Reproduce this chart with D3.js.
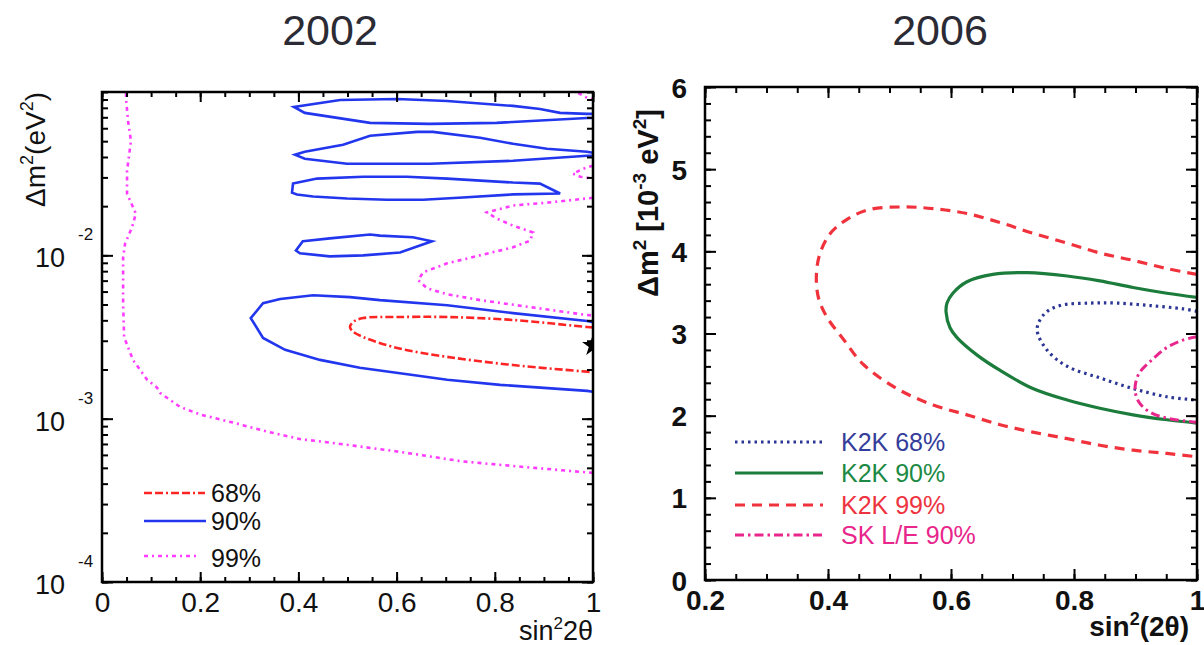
<!DOCTYPE html>
<html><head><meta charset="utf-8">
<script src="https://cdn.jsdelivr.net/npm/d3@7"></script>
<style>
html,body{margin:0;padding:0;background:#fff;}
svg{display:block;font-family:"Liberation Sans",Arial,Helvetica,sans-serif;}
</style></head>
<body>
<svg id="chart" width="1204" height="645"></svg>
<script>
// ---------- DATA: 2002 panel (sin^2 2θ, Δm^2 in eV^2) ----------
const titles2002 = "2002";
const leftXTicks = [0, 0.2, 0.4, 0.6, 0.8, 1];
const leftXLabels = ["0", "0.2", "0.4", "0.6", "0.8", "1"];
const leftYDecades = [1e-4, 1e-3, 1e-2];
const leftYExponents = ["-4", "-3", "-2"];
const bestFit2002 = [1.0, 2.8e-3];

const c68_2002 = [[1.0,0.00362],[0.988,0.00364],[0.837,0.00402],[0.703,0.00419],[0.601,0.00419],[0.532,0.00413],[0.512,0.00392],[0.505,0.00364],[0.512,0.00340],[0.532,0.00316],[0.601,0.00271],[0.703,0.00239],[0.837,0.00213],[0.988,0.00194],[1.0,0.00193]];

const c90_2002_a = [[1.0,0.0735],[0.988,0.0735],[0.933,0.0745],[0.892,0.0787],[0.837,0.0822],[0.703,0.0881],[0.601,0.0906],[0.485,0.0893],[0.391,0.0811],[0.413,0.0745],[0.546,0.0647],[0.668,0.0638],[0.804,0.0647],[0.988,0.0693],[1.0,0.0693]];
const c90_2002_b = [[1.0,0.0425],[0.988,0.0431],[0.906,0.0449],[0.837,0.0482],[0.770,0.0525],[0.674,0.0570],[0.642,0.0570],[0.546,0.0540],[0.491,0.0475],[0.413,0.0431],[0.393,0.0413],[0.413,0.0390],[0.499,0.0364],[0.668,0.0364],[0.837,0.0379],[0.988,0.0407],[1.0,0.0407]];
const c90_2002_c = [[0.389,0.0275],[0.438,0.0295],[0.532,0.0303],[0.621,0.0303],[0.703,0.0295],[0.837,0.0279],[0.892,0.0275],[0.933,0.0239],[0.837,0.0236],[0.735,0.0226],[0.654,0.0219],[0.580,0.0219],[0.499,0.0223],[0.430,0.0229],[0.397,0.0236],[0.387,0.0242]];
const c90_2002_d = [[0.409,0.0122],[0.464,0.0127],[0.546,0.0134],[0.566,0.0132],[0.633,0.0129],[0.672,0.0122],[0.607,0.0104],[0.532,0.0100],[0.464,0.00986],[0.403,0.0103],[0.395,0.0107]];
const c90_2002_e = [[1.0,0.00390],[0.988,0.00396],[0.837,0.00443],[0.703,0.00495],[0.566,0.00532],[0.505,0.00555],[0.430,0.00570],[0.363,0.00540],[0.328,0.00509],[0.303,0.00413],[0.328,0.00312],[0.373,0.00264],[0.444,0.00229],[0.525,0.00205],[0.633,0.00185],[0.703,0.00173],[0.811,0.00161],[0.988,0.00148],[1.0,0.00146]];

const c99_2002_a = [[0.049,0.0986],[0.049,0.0906],[0.053,0.0665],[0.059,0.0502],[0.051,0.0330],[0.051,0.0239],[0.069,0.0180],[0.061,0.0148],[0.047,0.0118],[0.043,0.00972],[0.043,0.00509],[0.045,0.00316],[0.063,0.00229],[0.092,0.00173],[0.112,0.00155],[0.118,0.00144],[0.159,0.00118],[0.200,0.00106],[0.267,0.000946],[0.336,0.000834],[0.403,0.000750],[0.464,0.000714],[0.601,0.000630],[0.735,0.000547],[0.872,0.000502],[0.988,0.000469],[1.0,0.000466]];
const c99_2002_b = [[0.970,0.0986],[0.985,0.0930],[1.0,0.0900]];
const c99_2002_c = [[1.0,0.0354],[0.980,0.0339],[0.959,0.0316],[0.974,0.0303],[1.0,0.0295]];
const c99_2002_d = [[1.0,0.0225],[0.988,0.0223],[0.906,0.0210],[0.837,0.0202],[0.784,0.0183],[0.804,0.0168],[0.837,0.0152],[0.878,0.0138],[0.872,0.0123],[0.837,0.0112],[0.770,0.0100],[0.703,0.00893],[0.654,0.00787],[0.644,0.00705],[0.662,0.00629],[0.703,0.00578],[0.770,0.00532],[0.872,0.00482],[0.988,0.00431],[1.0,0.00428]];

const legend2002 = ["68%", "90%", "99%"];

// ---------- DATA: 2006 panel (sin^2(2θ), Δm^2 in 1e-3 eV^2) ----------
const titles2006 = "2006";
const rightXTicks = [0.2, 0.4, 0.6, 0.8, 1];
const rightXLabels = ["0.2", "0.4", "0.6", "0.8", "1"];
const rightYTicks = [0, 1, 2, 3, 4, 5, 6];

const k2k68 = [[1.0,3.27],[0.977,3.30],[0.924,3.34],[0.870,3.37],[0.826,3.37],[0.777,3.34],[0.752,3.24],[0.740,3.05],[0.756,2.80],[0.789,2.60],[0.842,2.46],[0.896,2.33],[0.951,2.23],[1.0,2.19]];
const k2k90 = [[1.0,3.44],[0.951,3.49],[0.896,3.56],[0.842,3.64],[0.789,3.70],[0.724,3.74],[0.668,3.72],[0.626,3.63],[0.603,3.49],[0.5935,3.37],[0.592,3.26],[0.5984,3.07],[0.6098,2.95],[0.642,2.74],[0.680,2.55],[0.733,2.33],[0.789,2.19],[0.842,2.09],[0.896,2.01],[0.951,1.95],[1.0,1.91]];
const k2k99 = [[1.0,3.72],[0.951,3.79],[0.896,3.89],[0.842,3.98],[0.789,4.10],[0.733,4.22],[0.680,4.35],[0.626,4.46],[0.571,4.52],[0.522,4.54],[0.468,4.51],[0.431,4.39],[0.403,4.21],[0.386,3.95],[0.381,3.68],[0.385,3.42],[0.399,3.19],[0.424,2.94],[0.458,2.62],[0.512,2.33],[0.571,2.13],[0.626,2.01],[0.680,1.89],[0.733,1.80],[0.789,1.72],[0.842,1.64],[0.896,1.58],[0.951,1.54],[1.0,1.50]];
const skLE90 = [[1.0,2.96],[0.977,2.92],[0.951,2.83],[0.924,2.66],[0.907,2.53],[0.900,2.39],[0.900,2.27],[0.907,2.15],[0.924,2.04],[0.951,1.97],[1.0,1.92]];

const legend2006 = ["K2K 68%", "K2K 90%", "K2K 99%", "SK L/E 90%"];

// ---------- DRAWING ----------
const svg = d3.select("#chart");
const defs = svg.append("defs");

const xL = d3.scaleLinear().domain([0, 1]).range([102, 593]);
const yL = d3.scaleLog().domain([1e-4, 0.1]).range([582, 92]);
const xR = d3.scaleLinear().domain([0.2, 1]).range([705, 1197]);
const yR = d3.scaleLinear().domain([0, 6]).range([580, 87]);

defs.append("clipPath").attr("id","clipL").append("rect")
  .attr("x", xL(0)).attr("y", yL(0.1)).attr("width", xL(1)-xL(0)).attr("height", yL(1e-4)-yL(0.1));
defs.append("clipPath").attr("id","clipR").append("rect")
  .attr("x", xR(0.2)).attr("y", yR(6)).attr("width", xR(1)-xR(0.2)).attr("height", yR(0)-yR(6));

svg.append("text").attr("x", 330).attr("y", 45).attr("text-anchor","middle")
  .attr("font-size", 43).attr("fill", "#2b2b36").text(titles2002);
svg.append("text").attr("x", 940).attr("y", 45).attr("text-anchor","middle")
  .attr("font-size", 43).attr("fill", "#2b2b36").text(titles2006);

// ===== LEFT PANEL =====
const gL = svg.append("g");
const lineL = d3.line().x(d => xL(d[0])).y(d => yL(d[1]));
const plotL = gL.append("g").attr("clip-path","url(#clipL)");

const blue2002 = "#2236ee", red2002 = "#ff2424", mag2002 = "#ff3cff";
[c99_2002_a, c99_2002_b, c99_2002_c, c99_2002_d].forEach(c => {
  plotL.append("path").attr("d", lineL.curve(d3.curveLinear)(c))
    .attr("fill","none").attr("stroke", mag2002).attr("stroke-width", 2.6)
    .attr("stroke-dasharray","4,4,2,4");
});
[c90_2002_a, c90_2002_b, c90_2002_e].forEach(c => {
  plotL.append("path").attr("d", lineL.curve(d3.curveLinear)(c))
    .attr("fill","none").attr("stroke", blue2002).attr("stroke-width", 2.6);
});
[c90_2002_c, c90_2002_d].forEach(c => {
  plotL.append("path").attr("d", lineL.curve(d3.curveLinearClosed)(c))
    .attr("fill","none").attr("stroke", blue2002).attr("stroke-width", 2.6);
});
plotL.append("path").attr("d", lineL.curve(d3.curveCatmullRom)(c68_2002))
  .attr("fill","none").attr("stroke", red2002).attr("stroke-width", 2.6)
  .attr("stroke-dasharray","8,3,8,3,2,3");
plotL.append("path")
  .attr("transform", `translate(${xL(bestFit2002[0])},${yL(bestFit2002[1])})`)
  .attr("d", d3.symbol(d3.symbolStar, 150)()).attr("fill","#000");

const minorXL = d3.range(0, 1.0001, 0.05);
const axStyle = g => { g.select(".domain").remove(); g.selectAll("line").attr("stroke","#000").attr("stroke-width",2); };
gL.append("g").attr("transform",`translate(0,${yL(1e-4)})`)
  .call(d3.axisBottom(xL).tickValues(minorXL).tickSize(-5).tickFormat("")).call(axStyle);
gL.append("g").attr("transform",`translate(0,${yL(1e-4)})`)
  .call(d3.axisBottom(xL).tickValues(leftXTicks).tickSize(-10).tickPadding(18)
    .tickFormat((d,i) => leftXLabels[i])).call(axStyle)
  .selectAll("text").attr("font-size", 28).attr("fill","#111").attr("dy", "0.71em").attr("y", 10);
gL.append("g").attr("transform",`translate(0,${yL(0.1)})`)
  .call(d3.axisTop(xL).tickValues(minorXL).tickSize(-5).tickFormat("")).call(axStyle);
gL.append("g").attr("transform",`translate(0,${yL(0.1)})`)
  .call(d3.axisTop(xL).tickValues(leftXTicks).tickSize(-10).tickFormat("")).call(axStyle);

const minorYL = yL.ticks();
gL.append("g").attr("transform",`translate(${xL(0)},0)`)
  .call(d3.axisLeft(yL).tickValues(minorYL).tickSize(-6).tickFormat("")).call(axStyle);
gL.append("g").attr("transform",`translate(${xL(0)},0)`)
  .call(d3.axisLeft(yL).tickValues(leftYDecades).tickSize(-11).tickFormat("")).call(axStyle);
gL.append("g").attr("transform",`translate(${xL(1)},0)`)
  .call(d3.axisRight(yL).tickValues(minorYL).tickSize(-6).tickFormat("")).call(axStyle);
gL.append("g").attr("transform",`translate(${xL(1)},0)`)
  .call(d3.axisRight(yL).tickValues(leftYDecades).tickSize(-11).tickFormat("")).call(axStyle);

leftYDecades.forEach((v, i) => {
  gL.append("text").attr("x", 65).attr("y", yL(v) + 12).attr("text-anchor","end")
    .attr("font-size", 27).attr("fill","#111").text("10");
  gL.append("text").attr("x", 78).attr("y", yL(v) - 15)
    .attr("font-size", 17).attr("fill","#111").text(leftYExponents[i]);
});

gL.append("rect").attr("x", xL(0)).attr("y", yL(0.1)).attr("width", xL(1)-xL(0))
  .attr("height", yL(1e-4)-yL(0.1)).attr("fill","none").attr("stroke","#000").attr("stroke-width",2.5);

const ytL = gL.append("text").attr("transform","translate(45,92) rotate(-90)")
  .attr("text-anchor","end").attr("font-size", 28).attr("fill","#111");
ytL.append("tspan").text("Δm");
ytL.append("tspan").attr("font-size", 18).attr("dy", -12).text("2");
ytL.append("tspan").attr("dy", 12).text("(eV");
ytL.append("tspan").attr("font-size", 18).attr("dy", -12).text("2");
ytL.append("tspan").attr("dy", 12).text(")");

const xtL = gL.append("text").attr("x", 593).attr("y", 640).attr("text-anchor","end")
  .attr("font-size", 27).attr("fill","#111");
xtL.append("tspan").text("sin");
xtL.append("tspan").attr("font-size", 17).attr("dy", -11).text("2");
xtL.append("tspan").attr("dy", 11).text("2θ");

const legL = [
  {y: 493, color: red2002, dash: "8,3,8,3,2,3", x2: 205},
  {y: 521, color: blue2002, dash: null, x2: 206},
  {y: 556, color: mag2002, dash: "4,4,2,4", x2: 196}
];
legL.forEach((d, i) => {
  gL.append("line").attr("x1", 144).attr("x2", d.x2).attr("y1", d.y).attr("y2", d.y)
    .attr("stroke", d.color).attr("stroke-width", 2.6).attr("stroke-dasharray", d.dash);
  gL.append("text").attr("x", 211).attr("y", d.y + 9 + (i===2?2:0)).attr("font-size", 25)
    .attr("fill","#111").text(legend2002[i]);
});

// ===== RIGHT PANEL =====
const gR = svg.append("g");
const lineR = d3.line().x(d => xR(d[0])).y(d => yR(d[1])).curve(d3.curveCatmullRom.alpha(0.5));
const plotR = gR.append("g").attr("clip-path","url(#clipR)");

const seriesR = [
  {data: k2k99, color: "#f0323c", dash: "10,7", w: 3.2},
  {data: k2k90, color: "#1c7c3c", dash: null, w: 3.2},
  {data: k2k68, color: "#2b3595", dash: "2.5,4", w: 3.2},
  {data: skLE90, color: "#e8268c", dash: "9,4,2.5,4", w: 3}
];
seriesR.forEach(s => {
  plotR.append("path").attr("d", lineR(s.data)).attr("fill","none")
    .attr("stroke", s.color).attr("stroke-width", s.w).attr("stroke-dasharray", s.dash);
});

const minorXR = d3.range(0.2, 1.0001, 0.05);
const minorYR = d3.range(0, 6.0001, 0.2);
gR.append("g").attr("transform",`translate(0,${yR(0)})`)
  .call(d3.axisBottom(xR).tickValues(minorXR).tickSize(-6).tickFormat("")).call(axStyle);
gR.append("g").attr("transform",`translate(0,${yR(0)})`)
  .call(d3.axisBottom(xR).tickValues(rightXTicks).tickSize(-11).tickPadding(16)
    .tickFormat((d,i) => rightXLabels[i])).call(axStyle)
  .selectAll("text").attr("font-size", 28).attr("font-weight","bold").attr("fill","#111").attr("y", 10);
gR.append("g").attr("transform",`translate(0,${yR(6)})`)
  .call(d3.axisTop(xR).tickValues(minorXR).tickSize(-6).tickFormat("")).call(axStyle);
gR.append("g").attr("transform",`translate(0,${yR(6)})`)
  .call(d3.axisTop(xR).tickValues(rightXTicks).tickSize(-11).tickFormat("")).call(axStyle);
gR.append("g").attr("transform",`translate(${xR(0.2)},0)`)
  .call(d3.axisLeft(yR).tickValues(minorYR).tickSize(-6).tickFormat("")).call(axStyle);
gR.append("g").attr("transform",`translate(${xR(0.2)},0)`)
  .call(d3.axisLeft(yR).tickValues(rightYTicks).tickSize(-11).tickPadding(16).tickFormat(d3.format("d"))).call(axStyle)
  .selectAll("text").attr("font-size", 28).attr("font-weight","bold").attr("fill","#111").attr("x", -18).attr("dy","0.36em");
gR.append("g").attr("transform",`translate(${xR(1)},0)`)
  .call(d3.axisRight(yR).tickValues(minorYR).tickSize(-6).tickFormat("")).call(axStyle);
gR.append("g").attr("transform",`translate(${xR(1)},0)`)
  .call(d3.axisRight(yR).tickValues(rightYTicks).tickSize(-11).tickFormat("")).call(axStyle);

gR.append("rect").attr("x", xR(0.2)).attr("y", yR(6)).attr("width", xR(1)-xR(0.2))
  .attr("height", yR(0)-yR(6)).attr("fill","none").attr("stroke","#000").attr("stroke-width",2.5);

const ytR = gR.append("text").attr("transform","translate(658,203) rotate(-90)")
  .attr("text-anchor","middle").attr("font-size", 29).attr("font-weight","bold").attr("fill","#111");
ytR.append("tspan").text("Δm");
ytR.append("tspan").attr("font-size", 19).attr("dy", -12).text("2");
ytR.append("tspan").attr("dy", 12).text(" [10");
ytR.append("tspan").attr("font-size", 19).attr("dy", -12).text("-3");
ytR.append("tspan").attr("dy", 12).text(" eV");
ytR.append("tspan").attr("font-size", 19).attr("dy", -12).text("2");
ytR.append("tspan").attr("dy", 12).text("]");

const xtR = gR.append("text").attr("x", 1189).attr("y", 636).attr("text-anchor","end")
  .attr("font-size", 28).attr("font-weight","bold").attr("fill","#111");
xtR.append("tspan").text("sin");
xtR.append("tspan").attr("font-size", 18).attr("dy", -11).text("2");
xtR.append("tspan").attr("dy", 11).text("(2θ)");

const legRY = [442, 473, 505, 535];
const legRText = ["#353d9a", "#1c8a44", "#ee3340", "#e8268c"];
const legOrder = [seriesR[2], seriesR[1], seriesR[0], seriesR[3]];
legOrder.forEach((s, i) => {
  gR.append("line").attr("x1", 735).attr("x2", 823).attr("y1", legRY[i]).attr("y2", legRY[i])
    .attr("stroke", s.color).attr("stroke-width", s.w).attr("stroke-dasharray", s.dash);
  gR.append("text").attr("x", 841).attr("y", legRY[i] + 9).attr("font-size", 25)
    .attr("fill", legRText[i]).text(legend2006[i]);
});
</script>
</body></html>
